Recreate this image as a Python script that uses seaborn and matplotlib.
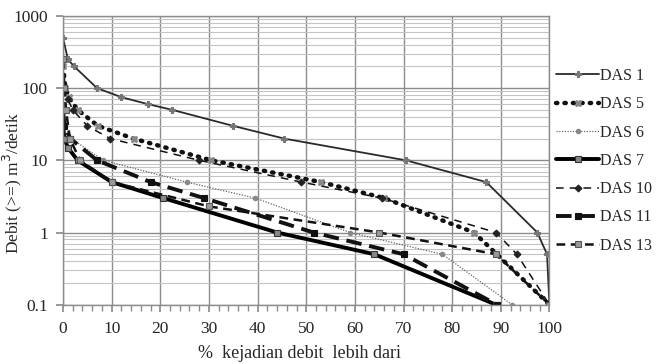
import matplotlib
matplotlib.use("Agg")
import matplotlib.pyplot as plt
import seaborn as sns
import pandas as pd
from matplotlib.ticker import FixedLocator, MultipleLocator, LogLocator, NullFormatter

# ---- data ----
das1_x = [0, 1, 2.3, 7, 12, 17.5, 22.5, 35, 45.5, 70.5, 87, 97.5, 99.5, 100]
das1_y = [500, 250, 200, 100, 75, 60, 50, 30, 20, 10, 5, 1, 0.5, 0.1]

das5_x = [0, 0.5, 1.2, 3, 7.2, 14.5, 30.5, 53, 66, 84.5, 100]
das5_y = [200, 100, 75, 50, 30, 20, 10, 5, 3, 1, 0.1]

das6_x = [0, 0.5, 1.7, 8.3, 25.4, 39.5, 59, 78, 92.3]
das6_y = [60, 30, 20, 10, 5, 3, 1, 0.5, 0.1]

das7_x = [0, 0.3, 1, 3, 10, 20.6, 44, 64, 89]
das7_y = [30, 20, 15, 10, 5, 3, 1, 0.5, 0.1]

das10_x = [0, 0.3, 1, 2, 5, 9.7, 28, 49, 65.5, 89, 93.3, 100]
das10_y = [250, 100, 70, 50, 30, 20, 10, 5, 3, 1, 0.5, 0.1]

das11_x = [0, 0.3, 1.5, 7, 18, 29, 51.5, 70, 89.2]
das11_y = [50, 30, 20, 10, 5, 3, 1, 0.5, 0.1]

das13_x = [0, 0.3, 0.6, 1.4, 3.5, 10, 30, 65, 89, 100]
das13_y = [250, 100, 50, 20, 10, 5, 2.3, 1, 0.5, 0.1]

series_names = ["DAS 1", "DAS 5", "DAS 6", "DAS 7", "DAS 10", "DAS 11", "DAS 13"]
xticks = [0, 10, 20, 30, 40, 50, 60, 70, 80, 90, 100]
yticks = [0.1, 1, 10, 100, 1000]
ytick_labels = ["0.1", "1", "10", "100", "1000"]

series = {
    "DAS 1": (das1_x, das1_y),
    "DAS 5": (das5_x, das5_y),
    "DAS 6": (das6_x, das6_y),
    "DAS 7": (das7_x, das7_y),
    "DAS 10": (das10_x, das10_y),
    "DAS 11": (das11_x, das11_y),
    "DAS 13": (das13_x, das13_y),
}

sns.set_theme(style="white")
plt.rcParams["font.family"] = ["Liberation Serif", "DejaVu Serif"]

styles = {
    "DAS 1": dict(color="#2a2a2a", lw=1.3, ls="-", marker="P", ms=4,
                  mfc="#777777", mec="#777777"),
    "DAS 5": dict(color="#111111", lw=3.2, ls=(0, (0.3, 1.6)), marker="X", ms=5,
                  mfc="#888888", mec="#888888", dash_capstyle="round"),
    "DAS 6": dict(color="#666666", lw=0.9, ls=(0, (1, 1.2)), marker="o", ms=3.2,
                  mfc="#888888", mec="#888888"),
    "DAS 7": dict(color="#000000", lw=2.8, ls="-", marker="s", ms=4.5,
                  mfc="#888888", mec="#333333"),
    "DAS 10": dict(color="#111111", lw=1.1, ls=(0, (5, 4)), marker="D", ms=3.5,
                   mfc="#222222", mec="#222222"),
    "DAS 11": dict(color="#111111", lw=2.8, ls=(0, (4, 2)), marker="s", ms=4.5,
                   mfc="#111111", mec="#111111"),
    "DAS 13": dict(color="#111111", lw=1.8, ls=(0, (3.5, 2.2)), marker="s", ms=4.5,
                   mfc="#999999", mec="#555555"),
}

fig = plt.figure(figsize=(6.6, 3.64), dpi=100)
ax = fig.add_axes([0.0955, 0.163, 0.737, 0.793])

handles = []
for name in series_names:
    xs, ys = series[name]
    df = pd.DataFrame({"x": xs, "y": ys})
    st = styles[name]
    sns.lineplot(data=df, x="x", y="y", ax=ax, sort=False, estimator=None,
                 color=st["color"], linewidth=st["lw"], linestyle=st["ls"],
                 marker=st["marker"], markersize=st["ms"],
                 markerfacecolor=st["mfc"], markeredgecolor=st["mec"],
                 markeredgewidth=0.8, label=name, legend=False)
    ln = ax.get_lines()[-1]
    if "dash_capstyle" in st:
        ln.set_dash_capstyle(st["dash_capstyle"])
    handles.append(ln)

ax.set_yscale("log")
ax.set_xlim(0, 100)
ax.set_ylim(0.1, 1000)
ax.xaxis.set_major_locator(FixedLocator(xticks))
ax.xaxis.set_minor_locator(MultipleLocator(2))
ax.yaxis.set_major_locator(FixedLocator(yticks))
ax.set_yticklabels(ytick_labels)
ax.yaxis.set_minor_locator(LogLocator(base=10, subs=range(2, 10)))
ax.yaxis.set_minor_formatter(NullFormatter())

ax.grid(which="major", axis="both", color="#8c8c8c", lw=1.0)
ax.grid(which="minor", axis="y", color="#c4c4c4", lw=0.8)
ax.set_axisbelow(True)

for side in ["top", "right", "left", "bottom"]:
    ax.spines[side].set_color("#8c8c8c")
    ax.spines[side].set_linewidth(1.0)

ax.tick_params(axis="x", which="major", direction="out", length=5, color="#8c8c8c",
               labelsize=12.5, pad=7, bottom=True)
ax.tick_params(axis="x", which="minor", direction="out", length=4, color="#8c8c8c",
               bottom=True)
ax.tick_params(axis="y", which="major", direction="out", length=5, color="#8c8c8c",
               labelsize=12.5, pad=6, left=True)
ax.tick_params(axis="y", which="minor", length=0)

ax.set_xlabel("%  kejadian debit  lebih dari", fontsize=13)
ax.set_ylabel("Debit (>=) m$^3$/detik", fontsize=12.5)
ax.xaxis.set_label_coords(0.486, -0.138)
ax.yaxis.set_label_coords(-0.08, 0.42)

fig.legend(handles=handles, labels=series_names, loc="upper left",
           bbox_to_anchor=(0.838, 0.822), frameon=False, fontsize=11.5,
           handlelength=2.7, handletextpad=0.05, labelspacing=0.77,
           borderaxespad=0, borderpad=0.2)

fig.savefig("out.png", dpi=100)
